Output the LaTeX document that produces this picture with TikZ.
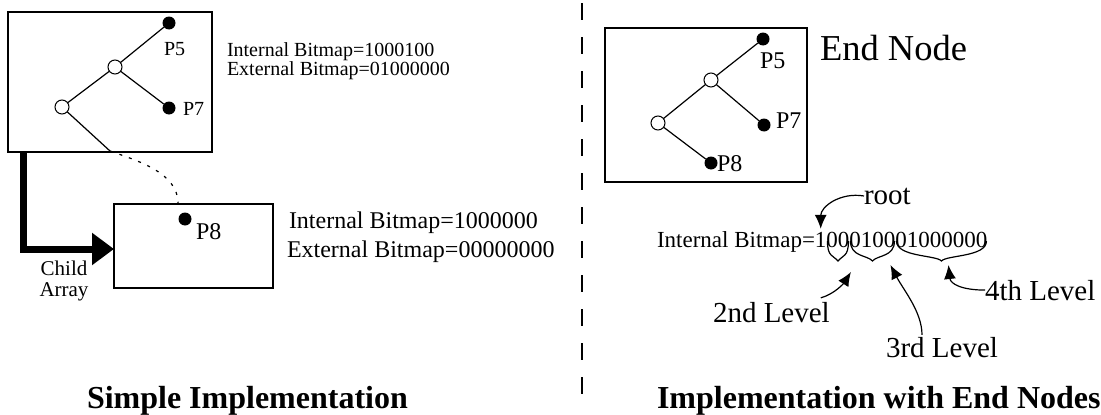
\documentclass[tikz,border=0pt]{standalone}
\usepackage{fontspec}
\setmainfont{Liberation Serif}
\usepackage{tikz}
\usetikzlibrary{positioning,calc,arrows.meta}

\begin{document}
\begin{tikzpicture}[x=1pt,y=-1pt,
        every node/.style={inner sep=0pt,outer sep=0pt},
        block/.style={draw,rectangle,line width=2pt},
        hole/.style={draw,circle,fill=white,line width=1pt,minimum size=14pt},
        leaf/.style={circle,fill=black,minimum size=13pt},
        txt/.style={font=\fontsize{24}{24}\selectfont},
        note/.style={font=\fontsize{20}{20}\selectfont},
        bits/.style={font=\fontsize{23}{23}\selectfont},
        lvl/.style={font=\fontsize{29}{29}\selectfont},
        heading/.style={font=\fontsize{32}{32}\selectfont\bfseries},
        link/.style={line width=1.2pt},
        arr/.style={line width=1.2pt,-{Latex[length=14pt,width=12pt]}}]
   \useasboundingbox (0,0) rectangle (1101,415);

   \node[block,minimum width=204pt,minimum height=140pt] (A) at (110,82) {};
   \node[hole] (B) at (115,67) {};
   \node[hole] (C) at (62,107) {};
   \node[leaf] (D) at (169,23) {};
   \node[leaf] (E) at (169,108) {};
   \node[note,anchor=base west] (F) at (164,55) {P5};
   \node[note,anchor=base west] (G) at (183,115) {P7};
   \draw[link] (C) -- (B) -- (D);
   \draw[link] (B) -- (E);
   \coordinate (H) at (110,151);
   \draw[link] (C) -- (H);

   \node[block,minimum width=159pt,minimum height=84pt] (I) at (193.5,246) {};
   \node[leaf] (J) at (185,219) {};
   \node[txt,anchor=base west] (K) at (196,239) {P8};
   \coordinate (L) at (178,203);
   \draw[link,dash pattern=on 3pt off 7pt] (H) .. controls (135,160) and (178,172) .. (L);
   \draw[line width=7pt,-{Triangle[length=22pt,width=31pt]}] (A.south west) ++(15,0) |- ($(I.west)+(0,3)$);
   \node[font=\fontsize{21}{21}\selectfont,anchor=base] (M) at (64,275) {Child};
   \node[font=\fontsize{21}{21}\selectfont,anchor=base] (N) at (64,296) {Array};

   \node[note,anchor=base west] (O) at (227,56) {Internal Bitmap=1000100};
   \node[note,anchor=base west] (P) at (227,75) {External Bitmap=01000000};
   \node[txt,anchor=base west] (Q) at (289,228) {Internal Bitmap=1000000};
   \node[txt,anchor=base west] (R) at (287,257) {External Bitmap=00000000};

   \draw[line width=2pt,dash pattern=on 17pt off 17pt] (582,3) -- (582,395);

   \node[block,minimum width=202pt,minimum height=154pt] (S) at (706,105) {};
   \node[hole] (T) at (711,80) {};
   \node[hole] (U) at (658,123) {};
   \node[leaf] (V) at (763,39) {};
   \node[leaf] (W) at (764,125) {};
   \node[leaf] (X) at (711,163) {};
   \node[txt,anchor=base west] (Y) at (760,68) {P5};
   \node[txt,anchor=base west] (Z) at (776,128) {P7};
   \node[txt,anchor=base west] (AA) at (717,171) {P8};
   \draw[link] (U) -- (T) -- (V);
   \draw[link] (T) -- (W);
   \draw[link] (U) -- (X);
   \node[font=\fontsize{36.5}{36.5}\selectfont,anchor=base west] (AB) at (820,60) {End Node};

   \node[bits,anchor=base west] (AC) at (657,247) {Internal Bitmap=};
   \node[bits,anchor=base west] (AD) at (AC.base east) {1};
   \node[bits,anchor=base west] (AE) at (AD.base east) {00};
   \node[bits,anchor=base west] (AF) at (AE.base east) {0100};
   \node[bits,anchor=base west] (AG) at (AF.base east) {01000000};
   \foreach \g in {AE,AF,AG} {
      \draw[link] ($(\g.base west)+(1,-6)$) .. controls +(0,16) and +(-5,-6) .. ($(\g.base)+(0,14)$)
         .. controls +(5,-6) and +(0,16) .. ($(\g.base east)+(-1,-6)$);
   }

   \node[lvl,anchor=base west] (AI) at (864,204) {root};
   \coordinate (AJ) at ($(AD.north)+(0,-3)$);
   \draw[arr] (AI.west) .. controls +(-24,-4) and +(0,-22) .. (AJ);

   \node[lvl,anchor=base west] (AK) at (713,322) {2nd Level};
   \node[lvl,anchor=base west] (AL) at (886,357) {3rd Level};
   \node[lvl,anchor=base west] (AM) at (985,300) {4th Level};
   \coordinate (AN) at ($(AE.base)+(13,25)$);
   \coordinate (AO) at ($(AF.base)+(18,18)$);
   \coordinate (AP) at ($(AG.base)+(7,18)$);
   \draw[arr] ($(AK.north east)+(-9,-4)$) .. controls +(14,-4) and +(-7,11) .. (AN);
   \draw[arr] ($(AL.north west)+(36,-2)$) .. controls +(0,-23) and +(13,25) .. (AO);
   \draw[arr] (AM.west) .. controls +(-23,0) and +(2,19) .. (AP);

   \node[heading,anchor=base west] (AQ) at (87,408) {Simple Implementation};
   \node[heading,anchor=base west] (AR) at (657,408) {Implementation with End Nodes};
\end{tikzpicture}
\end{document}
